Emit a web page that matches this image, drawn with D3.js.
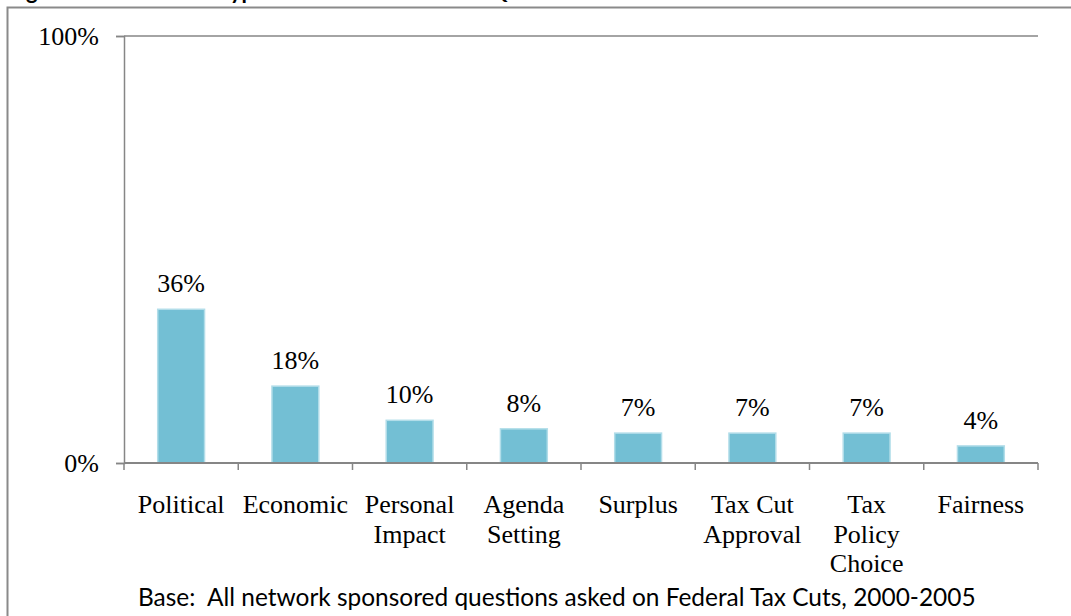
<!DOCTYPE html>
<html>
<head>
<meta charset="utf-8">
<script src="https://cdn.jsdelivr.net/npm/d3@7"></script>
<style>
  html, body { margin: 0; padding: 0; background: #fff; }
  svg { display: block; }
</style>
</head>
<body>
<svg id="chart" width="1071" height="616"></svg>
<script>
// Question topics and their share of all questions
const categories = ["Political", "Economic", "Personal Impact", "Agenda Setting", "Surplus", "Tax Cut Approval", "Tax Policy Choice", "Fairness"];
const categoryLines = [["Political"], ["Economic"], ["Personal", "Impact"], ["Agenda", "Setting"], ["Surplus"], ["Tax Cut", "Approval"], ["Tax", "Policy", "Choice"], ["Fairness"]];
const shares = [0.36, 0.18, 0.10, 0.08, 0.07, 0.07, 0.07, 0.04];
const shareLabels = ["36%", "18%", "10%", "8%", "7%", "7%", "7%", "4%"];
const yTicks = [0, 1];
const titleText = "Figure 2: Substantive Type of Television Network Questions";
const baseNote = "Base:  All network sponsored questions asked on Federal Tax Cuts, 2000-2005";

(function draw() {
  const svg = d3.select("#chart");
  const W = 1071, H = 616;
  const plotLeft = 124, plotRight = 1038, plotTop = 36, plotBottom = 463;
  const axisColor = "#868686";
  const serif = "'Liberation Serif', 'Times New Roman', serif";
  const sans = "Lato, 'Open Sans', sans-serif";

  // Heading, mostly above the frame
  svg.append("text")
    .attr("x", 8).attr("y", -1)
    .attr("font-family", sans).attr("font-weight", "bold")
    .attr("font-size", 22).attr("fill", "#000")
    .text(titleText);

  // Frame around the figure (open at right and bottom)
  svg.append("path")
    .attr("d", `M7.5,${H} L7.5,7.5 L${W},7.5`)
    .attr("fill", "none").attr("stroke", "#8a8a8a").attr("stroke-width", 2);

  const x = d3.scaleBand().domain(categories).range([plotLeft, plotRight])
    .paddingInner(0.59).paddingOuter(0.295);
  const y = d3.scaleLinear().domain([0, 1]).range([plotBottom, plotTop]);

  // Top reference line at 100%
  svg.append("line")
    .attr("x1", plotLeft).attr("x2", plotRight)
    .attr("y1", y(1)).attr("y2", y(1))
    .attr("stroke", axisColor).attr("stroke-width", 1.5);

  // Y axis
  const yAxis = svg.append("g")
    .attr("transform", `translate(${plotLeft},0)`)
    .call(d3.axisLeft(y).tickValues(yTicks).tickSize(8).tickPadding(17)
      .tickFormat(d3.format(".0%")));
  yAxis.select(".domain").attr("stroke", axisColor).attr("stroke-width", 1.5);
  yAxis.selectAll(".tick line").attr("stroke", axisColor).attr("stroke-width", 1.5);
  yAxis.selectAll(".tick text")
    .attr("font-family", serif).attr("font-size", 26).attr("fill", "#000");

  // Bars
  svg.append("g").selectAll("rect")
    .data(categories)
    .join("rect")
    .attr("x", d => x(d))
    .attr("y", (d, i) => y(shares[i]))
    .attr("width", x.bandwidth())
    .attr("height", (d, i) => y(0) - y(shares[i]))
    .attr("fill", "#73bfd4")
    .attr("stroke", "#b2dde9")
    .attr("stroke-width", 1.5);

  // X axis baseline with ticks at category boundaries
  const step = x.step();
  const boundaries = d3.range(categories.length + 1).map(i => plotLeft + i * step);
  svg.append("line")
    .attr("x1", plotLeft).attr("x2", plotRight)
    .attr("y1", y(0)).attr("y2", y(0))
    .attr("stroke", axisColor).attr("stroke-width", 2);
  svg.append("g").selectAll("line")
    .data(boundaries)
    .join("line")
    .attr("x1", d => d).attr("x2", d => d)
    .attr("y1", y(0)).attr("y2", y(0) + 7)
    .attr("stroke", axisColor).attr("stroke-width", 1.5);

  // Value labels above bars
  svg.append("g").selectAll("text")
    .data(categories)
    .join("text")
    .attr("x", d => x(d) + x.bandwidth() / 2)
    .attr("y", (d, i) => y(shares[i]) - 17)
    .attr("text-anchor", "middle")
    .attr("font-family", serif).attr("font-size", 26).attr("fill", "#000")
    .text((d, i) => shareLabels[i]);

  // Category labels, wrapped
  const catG = svg.append("g").selectAll("text")
    .data(categories)
    .join("text")
    .attr("text-anchor", "middle")
    .attr("font-family", serif).attr("font-size", 26).attr("fill", "#000");
  catG.each(function (d, i) {
    const cx = x(d) + x.bandwidth() / 2;
    d3.select(this).selectAll("tspan")
      .data(categoryLines[i])
      .join("tspan")
      .attr("x", cx)
      .attr("y", (t, j) => 513 + j * 29.5)
      .text(t => t);
  });

  // Base note (keeps its double space)
  const note = svg.append("text")
    .attr("x", 138).attr("y", 606)
    .style("white-space", "pre")
    .attr("font-family", sans).attr("font-size", 22).attr("fill", "#000")
    .text(baseNote);
  const w = note.node().getComputedTextLength();
  note.attr("font-size", 22 * 838 / w);
})();
</script>
</body>
</html>
